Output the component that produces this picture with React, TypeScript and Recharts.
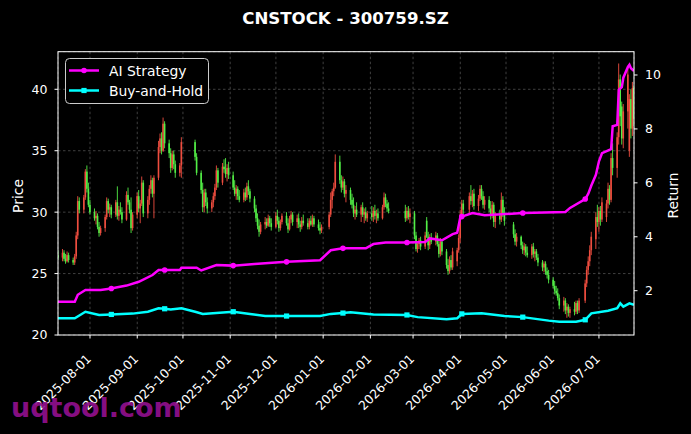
import React from "react";
import { ComposedChart, Bar, Line, XAxis, YAxis, CartesianGrid } from "recharts";

// ---- data ----
// [date, open, high, low, close]
const candles: [string, number, number, number, number][] = [
  ["2025-07-11", 26.5, 26.9, 26.1, 26.3],
  ["2025-07-14", 26.3, 27.0, 26.0, 26.7],
  ["2025-07-15", 26.7, 26.9, 26.0, 26.2],
  ["2025-07-16", 26.2, 26.6, 25.8, 26.0],
  ["2025-07-17", 26.0, 26.8, 25.9, 26.5],
  ["2025-07-18", 26.5, 26.7, 25.9, 26.1],
  ["2025-07-21", 26.1, 26.3, 25.7, 25.9],
  ["2025-07-22", 25.9, 26.6, 25.7, 26.4],
  ["2025-07-23", 26.4, 28.4, 26.2, 28.1],
  ["2025-07-24", 28.1, 31.3, 27.8, 30.9],
  ["2025-07-25", 30.9, 31.2, 29.9, 30.2],
  ["2025-07-28", 30.2, 31.4, 29.9, 31.2],
  ["2025-07-29", 31.2, 33.5, 31.0, 33.3],
  ["2025-07-30", 33.3, 33.8, 31.6, 31.9],
  ["2025-07-31", 31.9, 32.4, 30.4, 30.6],
  ["2025-08-01", 30.6, 31.0, 29.8, 30.0],
  ["2025-08-04", 30.0, 30.3, 29.3, 29.5],
  ["2025-08-05", 29.5, 30.1, 29.0, 29.7],
  ["2025-08-06", 29.7, 29.9, 28.6, 28.8],
  ["2025-08-07", 28.8, 29.2, 28.0, 28.3],
  ["2025-08-08", 28.3, 28.9, 28.1, 28.7],
  ["2025-08-11", 28.7, 29.8, 28.4, 29.6],
  ["2025-08-12", 29.6, 31.2, 29.4, 30.9],
  ["2025-08-13", 30.9, 31.1, 29.9, 30.2],
  ["2025-08-14", 30.2, 30.7, 29.6, 30.4],
  ["2025-08-15", 30.4, 30.6, 29.5, 29.8],
  ["2025-08-18", 29.8, 31.0, 29.6, 30.8],
  ["2025-08-19", 30.8, 32.1, 29.4, 29.7],
  ["2025-08-20", 29.7, 30.5, 29.3, 30.2],
  ["2025-08-21", 30.2, 30.8, 29.8, 30.0],
  ["2025-08-22", 30.0, 30.4, 29.1, 29.4],
  ["2025-08-25", 29.4, 31.7, 29.3, 31.4],
  ["2025-08-26", 31.4, 32.0, 30.6, 30.8],
  ["2025-08-27", 30.8, 31.0, 29.9, 30.2],
  ["2025-08-28", 30.2, 31.2, 28.3, 28.7],
  ["2025-08-29", 28.7, 30.0, 28.5, 29.8],
  ["2025-09-01", 29.8, 31.6, 29.5, 31.3],
  ["2025-09-02", 31.3, 31.8, 30.0, 30.3],
  ["2025-09-03", 30.3, 31.0, 29.1, 30.7],
  ["2025-09-04", 30.7, 32.9, 30.5, 32.4],
  ["2025-09-05", 32.4, 32.6, 29.6, 29.9],
  ["2025-09-08", 29.9, 31.3, 29.5, 31.0],
  ["2025-09-09", 31.0, 32.2, 30.6, 31.9],
  ["2025-09-10", 31.9, 33.0, 31.5, 32.6],
  ["2025-09-11", 32.6, 32.8, 31.2, 31.5],
  ["2025-09-12", 31.5, 33.0, 29.5, 32.8],
  ["2025-09-15", 32.8, 35.8, 32.6, 35.3],
  ["2025-09-16", 35.3, 36.4, 34.8, 36.0],
  ["2025-09-17", 36.0, 36.5, 34.7, 35.0],
  ["2025-09-18", 35.0, 37.7, 34.9, 37.2],
  ["2025-09-19", 37.2, 37.4, 35.2, 35.6],
  ["2025-09-22", 35.6, 35.9, 34.4, 34.8],
  ["2025-09-23", 34.8, 35.2, 33.2, 33.6],
  ["2025-09-24", 33.6, 35.0, 33.4, 34.7],
  ["2025-09-25", 34.7, 35.0, 33.5, 33.9],
  ["2025-09-26", 33.9, 34.2, 32.8, 33.2],
  ["2025-09-29", 33.2, 34.0, 32.9, 33.8],
  ["2025-09-30", 33.8, 36.1, 32.8, 35.7],
  ["2025-10-09", 35.7, 35.9, 34.2, 34.5],
  ["2025-10-10", 34.5, 34.8, 33.0, 33.2],
  ["2025-10-13", 33.2, 33.4, 31.5, 31.8],
  ["2025-10-14", 31.8, 32.4, 30.0, 30.4],
  ["2025-10-15", 30.4, 31.9, 30.0, 31.6],
  ["2025-10-16", 31.6, 31.9, 30.5, 30.8],
  ["2025-10-17", 30.8, 31.2, 29.9, 30.3],
  ["2025-10-20", 30.3, 31.0, 30.0, 30.8],
  ["2025-10-21", 30.8, 31.6, 30.4, 31.3],
  ["2025-10-22", 31.3, 32.3, 31.0, 32.0],
  ["2025-10-23", 32.0, 33.8, 31.8, 33.4],
  ["2025-10-24", 33.4, 33.6, 32.0, 32.4],
  ["2025-10-27", 32.4, 34.0, 32.2, 33.7],
  ["2025-10-28", 33.7, 34.3, 33.2, 33.5],
  ["2025-10-29", 33.5, 34.4, 32.8, 33.1],
  ["2025-10-30", 33.1, 33.9, 32.5, 33.6],
  ["2025-10-31", 33.6, 34.1, 32.7, 33.0],
  ["2025-11-03", 33.0, 33.3, 31.8, 32.0],
  ["2025-11-04", 32.0, 32.6, 31.3, 31.5],
  ["2025-11-05", 31.5, 32.2, 31.0, 31.9],
  ["2025-11-06", 31.9, 32.1, 31.0, 31.3],
  ["2025-11-07", 31.3, 31.8, 30.8, 31.0],
  ["2025-11-10", 31.0, 31.9, 30.8, 31.6],
  ["2025-11-11", 31.6, 32.0, 30.9, 31.2],
  ["2025-11-12", 31.2, 32.4, 31.0, 32.1],
  ["2025-11-13", 32.1, 32.6, 31.4, 31.7],
  ["2025-11-14", 31.7, 31.9, 30.8, 31.1],
  ["2025-11-17", 31.1, 31.3, 30.0, 30.3],
  ["2025-11-18", 30.3, 30.6, 29.2, 29.5],
  ["2025-11-19", 29.5, 29.9, 28.6, 28.9],
  ["2025-11-20", 28.9, 29.4, 28.0, 28.4],
  ["2025-11-21", 28.4, 29.2, 28.2, 29.0],
  ["2025-11-24", 29.0, 29.6, 28.6, 29.2],
  ["2025-11-25", 29.2, 29.5, 28.7, 28.9],
  ["2025-11-26", 28.9, 29.8, 28.8, 29.5],
  ["2025-11-27", 29.5, 29.7, 28.8, 29.1],
  ["2025-11-28", 29.1, 29.5, 28.5, 28.8],
  ["2025-12-01", 28.8, 30.0, 28.7, 29.7],
  ["2025-12-02", 29.7, 30.2, 29.0, 29.3],
  ["2025-12-03", 29.3, 29.6, 28.4, 28.7],
  ["2025-12-04", 28.7, 29.4, 28.5, 29.2],
  ["2025-12-05", 29.2, 29.9, 29.0, 29.7],
  ["2025-12-08", 29.7, 30.0, 28.9, 29.1],
  ["2025-12-09", 29.1, 29.5, 28.3, 28.6],
  ["2025-12-10", 28.6, 29.7, 28.5, 29.4],
  ["2025-12-11", 29.4, 30.1, 29.1, 29.8],
  ["2025-12-12", 29.8, 30.0, 28.9, 29.2],
  ["2025-12-15", 29.2, 29.8, 28.7, 29.5],
  ["2025-12-16", 29.5, 29.9, 28.7, 29.0],
  ["2025-12-17", 29.0, 29.3, 28.4, 28.8],
  ["2025-12-18", 28.8, 29.6, 28.6, 29.3],
  ["2025-12-19", 29.3, 29.8, 28.9, 29.1],
  ["2025-12-22", 29.1, 29.5, 28.6, 28.8],
  ["2025-12-23", 28.8, 29.5, 28.6, 29.3],
  ["2025-12-24", 29.3, 29.7, 28.9, 29.0],
  ["2025-12-25", 29.0, 29.8, 28.8, 29.5],
  ["2025-12-26", 29.5, 29.7, 28.8, 29.0],
  ["2025-12-29", 29.0, 29.4, 28.5, 28.7],
  ["2025-12-30", 28.7, 29.2, 28.2, 28.5],
  ["2025-12-31", 28.5, 29.0, 28.3, 28.8],
  ["2026-01-05", 28.8, 30.0, 28.6, 29.8],
  ["2026-01-06", 29.8, 31.6, 29.6, 31.0],
  ["2026-01-07", 31.0, 31.9, 30.3, 31.7],
  ["2026-01-08", 31.7, 32.4, 31.3, 32.0],
  ["2026-01-09", 32.0, 34.7, 31.9, 34.1],
  ["2026-01-12", 34.1, 34.6, 32.3, 32.6],
  ["2026-01-13", 32.6, 33.0, 31.6, 32.0],
  ["2026-01-14", 32.0, 32.9, 31.8, 32.5],
  ["2026-01-15", 32.5, 32.7, 31.2, 31.5],
  ["2026-01-16", 31.5, 32.2, 30.8, 31.8],
  ["2026-01-19", 31.8, 32.0, 30.6, 31.0],
  ["2026-01-20", 31.0, 31.5, 30.3, 30.6],
  ["2026-01-21", 30.6, 31.2, 29.6, 29.9],
  ["2026-01-22", 29.9, 30.5, 29.4, 30.2],
  ["2026-01-23", 30.2, 30.8, 29.6, 29.8],
  ["2026-01-26", 29.8, 30.6, 29.2, 30.4],
  ["2026-01-27", 30.4, 30.8, 29.6, 29.8],
  ["2026-01-28", 29.8, 30.3, 29.1, 30.0],
  ["2026-01-29", 30.0, 30.4, 29.3, 29.5],
  ["2026-01-30", 29.5, 30.1, 29.2, 29.9],
  ["2026-02-02", 29.9, 30.5, 29.3, 29.6],
  ["2026-02-03", 29.6, 30.4, 29.2, 30.1],
  ["2026-02-04", 30.1, 30.6, 29.4, 29.7],
  ["2026-02-05", 29.7, 30.2, 29.1, 29.9],
  ["2026-02-06", 29.9, 30.3, 29.3, 29.5],
  ["2026-02-09", 29.5, 30.6, 29.4, 30.4],
  ["2026-02-10", 30.4, 31.6, 30.2, 31.2],
  ["2026-02-11", 31.2, 31.5, 30.4, 30.7],
  ["2026-02-12", 30.7, 31.0, 30.0, 30.3],
  ["2026-02-13", 30.3, 30.8, 29.9, 30.1],
  ["2026-02-24", 30.1, 30.6, 29.2, 29.5],
  ["2026-02-25", 29.5, 30.4, 29.3, 30.1],
  ["2026-02-26", 30.1, 30.5, 29.4, 29.6],
  ["2026-02-27", 29.6, 30.3, 29.1, 29.9],
  ["2026-03-02", 29.9, 30.1, 27.8, 28.1],
  ["2026-03-03", 28.1, 28.4, 26.8, 27.0],
  ["2026-03-04", 27.0, 27.6, 26.7, 27.4],
  ["2026-03-05", 27.4, 27.9, 27.0, 27.7],
  ["2026-03-06", 27.7, 28.0, 26.9, 27.2],
  ["2026-03-09", 27.2, 28.4, 27.0, 28.1],
  ["2026-03-10", 29.3, 29.6, 27.9, 28.0],
  ["2026-03-11", 28.0, 28.4, 26.9, 27.3],
  ["2026-03-12", 27.3, 28.2, 27.0, 27.9],
  ["2026-03-13", 27.9, 28.3, 27.4, 27.6],
  ["2026-03-16", 27.6, 28.4, 27.3, 28.1],
  ["2026-03-17", 28.1, 28.3, 27.2, 27.4],
  ["2026-03-18", 27.4, 27.8, 26.3, 26.6],
  ["2026-03-19", 26.6, 27.9, 26.4, 27.6],
  ["2026-03-20", 27.6, 27.8, 26.5, 26.8],
  ["2026-03-23", 26.8, 27.0, 25.4, 25.7],
  ["2026-03-24", 25.7, 26.2, 24.9, 25.2],
  ["2026-03-25", 25.2, 26.4, 25.0, 26.1],
  ["2026-03-26", 26.1, 26.5, 25.3, 25.5],
  ["2026-03-27", 25.5, 27.1, 25.3, 26.8],
  ["2026-03-30", 26.0, 27.1, 25.6, 26.9],
  ["2026-03-31", 26.9, 28.2, 26.7, 27.9],
  ["2026-04-01", 27.9, 30.2, 27.5, 29.8],
  ["2026-04-02", 29.8, 31.0, 29.4, 30.7],
  ["2026-04-03", 30.7, 31.0, 29.8, 30.2],
  ["2026-04-07", 30.2, 31.6, 29.9, 31.3],
  ["2026-04-08", 31.3, 32.2, 30.6, 30.9],
  ["2026-04-09", 30.9, 31.8, 30.4, 31.5],
  ["2026-04-10", 31.5, 31.9, 30.2, 30.5],
  ["2026-04-13", 30.5, 31.4, 30.1, 31.1],
  ["2026-04-14", 31.1, 32.2, 30.9, 31.9],
  ["2026-04-15", 31.9, 32.2, 31.0, 31.3],
  ["2026-04-16", 31.3, 31.7, 30.3, 30.6],
  ["2026-04-17", 30.6, 31.3, 30.2, 31.0],
  ["2026-04-20", 31.0, 31.3, 30.0, 30.3],
  ["2026-04-21", 30.3, 30.9, 29.4, 29.7],
  ["2026-04-22", 29.7, 30.9, 29.5, 30.6],
  ["2026-04-23", 30.6, 30.8, 28.8, 29.2],
  ["2026-04-24", 29.2, 30.0, 28.7, 29.7],
  ["2026-04-27", 29.7, 30.2, 29.0, 29.4],
  ["2026-04-28", 29.4, 31.6, 29.2, 31.0],
  ["2026-04-29", 31.0, 31.3, 29.6, 29.9],
  ["2026-04-30", 29.9, 30.4, 28.9, 29.3],
  ["2026-05-06", 29.0, 29.2, 27.9, 28.2],
  ["2026-05-07", 28.2, 28.6, 27.3, 27.6],
  ["2026-05-08", 27.6, 28.3, 27.2, 28.0],
  ["2026-05-11", 28.0, 28.1, 27.0, 27.3],
  ["2026-05-12", 27.3, 27.6, 26.6, 26.9],
  ["2026-05-13", 26.9, 27.5, 26.5, 27.2],
  ["2026-05-14", 27.2, 27.4, 26.4, 26.7],
  ["2026-05-15", 26.7, 27.2, 26.3, 26.5],
  ["2026-05-18", 26.5, 27.4, 26.2, 27.2],
  ["2026-05-19", 27.2, 27.5, 26.3, 26.6],
  ["2026-05-20", 26.6, 27.0, 26.0, 26.8],
  ["2026-05-21", 26.8, 27.0, 26.1, 26.3],
  ["2026-05-22", 26.3, 26.6, 25.6, 25.9],
  ["2026-05-25", 25.9, 26.1, 25.2, 25.5],
  ["2026-05-26", 25.5, 26.0, 25.1, 25.8],
  ["2026-05-27", 25.8, 26.0, 24.9, 25.2],
  ["2026-05-28", 25.2, 25.5, 24.6, 24.9],
  ["2026-05-29", 24.9, 25.3, 24.2, 24.5],
  ["2026-06-01", 24.5, 24.7, 23.8, 24.0],
  ["2026-06-02", 24.0, 24.4, 23.3, 23.6],
  ["2026-06-03", 23.6, 24.0, 23.2, 23.4],
  ["2026-06-04", 23.4, 23.8, 22.8, 23.0],
  ["2026-06-05", 23.0, 23.3, 22.1, 22.4],
  ["2026-06-08", 22.4, 23.1, 21.9, 22.8],
  ["2026-06-09", 22.8, 23.0, 21.7, 22.0],
  ["2026-06-10", 22.0, 22.6, 21.4, 22.3],
  ["2026-06-11", 22.3, 22.5, 21.5, 21.8],
  ["2026-06-12", 21.8, 22.3, 21.4, 22.1],
  ["2026-06-15", 22.1, 22.7, 21.6, 21.9],
  ["2026-06-16", 21.9, 22.8, 21.7, 22.6],
  ["2026-06-17", 22.6, 22.8, 21.7, 22.0],
  ["2026-06-18", 22.0, 23.0, 21.8, 22.8],
  ["2026-06-22", 22.8, 24.5, 22.6, 24.2],
  ["2026-06-23", 24.2, 25.6, 23.9, 25.3],
  ["2026-06-24", 25.3, 26.4, 24.9, 26.0],
  ["2026-06-25", 26.0, 27.3, 25.6, 26.9],
  ["2026-06-26", 26.9, 28.4, 26.5, 28.0],
  ["2026-06-29", 27.8, 30.0, 27.0, 29.6],
  ["2026-06-30", 29.6, 30.6, 28.8, 29.2],
  ["2026-07-01", 29.2, 30.4, 28.4, 30.1],
  ["2026-07-02", 30.1, 30.5, 28.9, 29.4],
  ["2026-07-03", 29.4, 31.2, 29.2, 30.8],
  ["2026-07-06", 29.6, 31.0, 29.2, 30.7],
  ["2026-07-07", 30.7, 32.4, 30.3, 31.9],
  ["2026-07-08", 31.9, 32.2, 30.6, 31.0],
  ["2026-07-09", 31.0, 34.8, 30.8, 34.4],
  ["2026-07-10", 34.4, 35.6, 33.0, 33.6],
  ["2026-07-13", 33.6, 36.5, 32.8, 36.1],
  ["2026-07-14", 36.1, 42.1, 35.5, 40.8],
  ["2026-07-15", 40.8, 41.2, 37.0, 37.8],
  ["2026-07-16", 38.6, 39.0, 35.5, 36.0],
  ["2026-07-17", 36.0, 38.8, 35.2, 38.2],
  ["2026-07-20", 38.2, 41.8, 36.8, 41.2],
  ["2026-07-21", 35.0, 39.6, 34.5, 39.2],
  ["2026-07-22", 39.2, 40.0, 36.0, 36.8],
  ["2026-07-23", 36.8, 40.6, 36.2, 40.1],
  ["2026-07-24", 40.1, 40.3, 37.0, 37.6],
];

const aiStrategy: [string, number][] = [
  ["2025-07-11", 1.59], ["2025-07-22", 1.59], ["2025-07-24", 1.85], ["2025-07-29", 2.03],
  ["2025-08-08", 2.03], ["2025-08-15", 2.08], ["2025-08-19", 2.13], ["2025-08-25", 2.19],
  ["2025-09-02", 2.33], ["2025-09-11", 2.58], ["2025-09-15", 2.77], ["2025-09-19", 2.77],
  ["2025-09-29", 2.77], ["2025-09-30", 2.85], ["2025-10-10", 2.85], ["2025-10-13", 2.75],
  ["2025-10-23", 2.95], ["2025-11-03", 2.93], ["2025-11-17", 2.99], ["2025-12-08", 3.07],
  ["2025-12-30", 3.13], ["2026-01-06", 3.5], ["2026-01-14", 3.57], ["2026-01-29", 3.57],
  ["2026-02-03", 3.73], ["2026-02-11", 3.79], ["2026-02-25", 3.79], ["2026-03-09", 3.81],
  ["2026-03-12", 3.94], ["2026-03-20", 3.87], ["2026-03-27", 4.1], ["2026-03-30", 4.15],
  ["2026-04-01", 4.72], ["2026-04-02", 4.75], ["2026-04-09", 4.88], ["2026-04-17", 4.8],
  ["2026-05-12", 4.88], ["2026-06-09", 4.92], ["2026-06-12", 5.07], ["2026-06-22", 5.4],
  ["2026-06-24", 5.6], ["2026-06-26", 5.9], ["2026-06-29", 6.3], ["2026-07-01", 6.8],
  ["2026-07-03", 7.1], ["2026-07-09", 7.25], ["2026-07-10", 8.1], ["2026-07-13", 8.15],
  ["2026-07-14", 9.45], ["2026-07-16", 9.55], ["2026-07-17", 9.9], ["2026-07-20", 10.3],
  ["2026-07-21", 10.38], ["2026-07-22", 10.25], ["2026-07-24", 10.15],
];

const buyAndHold: [string, number][] = [
  ["2025-07-11", 0.98], ["2025-07-22", 0.98], ["2025-07-29", 1.22], ["2025-08-07", 1.1],
  ["2025-08-15", 1.12], ["2025-08-29", 1.15], ["2025-09-08", 1.22], ["2025-09-15", 1.35],
  ["2025-09-19", 1.33], ["2025-09-23", 1.3], ["2025-09-30", 1.35], ["2025-10-09", 1.22],
  ["2025-10-14", 1.14], ["2025-11-03", 1.22], ["2025-11-14", 1.14], ["2025-11-24", 1.06],
  ["2025-12-08", 1.06], ["2025-12-30", 1.06], ["2026-01-06", 1.14], ["2026-01-14", 1.17],
  ["2026-01-19", 1.2], ["2026-02-03", 1.12], ["2026-02-25", 1.1], ["2026-03-04", 1.02],
  ["2026-03-23", 0.94], ["2026-03-30", 0.98], ["2026-04-02", 1.14], ["2026-04-15", 1.16],
  ["2026-04-30", 1.06], ["2026-05-12", 1.02], ["2026-05-29", 0.89], ["2026-06-05", 0.85],
  ["2026-06-16", 0.85], ["2026-06-22", 0.92], ["2026-06-26", 1.16], ["2026-07-07", 1.26],
  ["2026-07-13", 1.35], ["2026-07-15", 1.53], ["2026-07-17", 1.41], ["2026-07-21", 1.53],
  ["2026-07-24", 1.48],
];

const markerDates: string[] = [
  "2025-08-15", "2025-09-19", "2025-11-03", "2025-12-08", "2026-01-14",
  "2026-02-25", "2026-04-02", "2026-05-12", "2026-06-22",
];

const monthTicks: string[] = [
  "2025-08-01", "2025-09-01", "2025-10-01", "2025-11-01", "2025-12-01", "2026-01-01",
  "2026-02-01", "2026-03-01", "2026-04-01", "2026-05-01", "2026-06-01", "2026-07-01",
];
const priceTicks = [20, 25, 30, 35, 40];
const returnTicks = [2, 4, 6, 8, 10];
const xStart = "2025-07-11";
const xEnd = "2026-07-24";

// ---- build table ----
const ts = (s: string) => Date.UTC(+s.slice(0, 4), +s.slice(5, 7) - 1, +s.slice(8, 10));
const fmt = (t: number) => new Date(t).toISOString().slice(0, 10);
const rowMap = new Map<number, any>();
const row = (s: string) => {
  const t = ts(s);
  if (!rowMap.has(t)) rowMap.set(t, { t });
  return rowMap.get(t);
};
candles.forEach(([d, o, h, l, c]) => Object.assign(row(d), { open: o, high: h, low: l, close: c, range: [l, h] }));
aiStrategy.forEach(([d, v]) => (row(d).ai = v));
buyAndHold.forEach(([d, v]) => (row(d).bh = v));
const data = [...rowMap.values()].sort((a, b) => a.t - b.t);
const markSet = new Set(markerDates.map(ts));

const RED = "#ee4d3f";
const GREEN = "#52ee46";
const MAG = "#ff00ff";
const CYAN = "#00ffff";
const FONT = "DejaVu Sans";

const Candle = (p: any) => {
  const { x, width, payload } = p;
  let { y, height } = p;
  if (!payload || payload.open == null || x == null) return <g />;
  if (height < 0) { y = y + height; height = -height; }
  const { open, close, high, low } = payload;
  const span = high - low || 1;
  const py = (v: number) => y + ((high - v) / span) * height;
  const cx = x + width / 2;
  const color = close >= open ? RED : GREEN;
  const top = py(Math.max(open, close));
  const bot = py(Math.min(open, close));
  return (
    <g>
      <line x1={cx} x2={cx} y1={y} y2={y + height} stroke={color} strokeWidth={0.9} />
      <rect x={cx - 0.8} y={top} width={1.6} height={Math.max(bot - top, 0.7)} fill={color} />
    </g>
  );
};

const AiDot = (p: any) => {
  const { cx, cy, payload, index } = p;
  if (cx == null || !payload || !markSet.has(payload.t)) return <g key={`a${index}`} />;
  return <circle key={`a${index}`} cx={cx} cy={cy} r={2.8} fill={MAG} />;
};
const BhDot = (p: any) => {
  const { cx, cy, payload, index } = p;
  if (cx == null || !payload || !markSet.has(payload.t)) return <g key={`b${index}`} />;
  return <rect key={`b${index}`} x={cx - 2.6} y={cy - 2.6} width={5.2} height={5.2} fill={CYAN} />;
};

const XTick = (p: any) => {
  const { x, y, payload } = p;
  const ax = x + 2;
  const ay = y + 19;
  return (
    <text x={ax} y={ay} transform={`rotate(-45 ${ax} ${ay})`} textAnchor="end" fill="#fff" fontSize={12.5} fontFamily={FONT}>
      {fmt(payload.value)}
    </text>
  );
};

export default function App() {
  const tickStyle = { fill: "#fff", fontSize: 12.5, fontFamily: FONT };
  return (
    <div style={{ position: "absolute", left: 0, top: 0, width: 691, height: 434, background: "#000", overflow: "hidden" }}>
      <ComposedChart width={691} height={434} data={data} margin={{ top: 51.7, right: 0, bottom: 0, left: 0 }}>
        <CartesianGrid stroke="#5a5a5a" strokeDasharray="2.5 2.5" strokeWidth={0.7} />
        <XAxis
          dataKey="t"
          type="number"
          domain={[ts(xStart), ts(xEnd)]}
          allowDataOverflow
          ticks={monthTicks.map(ts)}
          height={99}
          axisLine={false}
          tickLine={{ stroke: "#fff" }}
          tickSize={3.5}
          tick={<XTick />}
          interval={0}
        />
        <YAxis
          yAxisId={0}
          orientation="left"
          width={58}
          domain={[20, 43.06]}
          allowDataOverflow
          ticks={priceTicks}
          axisLine={false}
          tickLine={{ stroke: "#fff" }}
          tickSize={3.5}
          tickMargin={7}
          tick={tickStyle}
          interval={0}
        />
        <YAxis
          yAxisId="r"
          orientation="right"
          width={57}
          domain={[0.357, 10.864]}
          allowDataOverflow
          ticks={returnTicks}
          axisLine={false}
          tickLine={{ stroke: "#fff" }}
          tickSize={3.5}
          tickMargin={7.5}
          tick={tickStyle}
          interval={0}
        />
        <Bar yAxisId={0} dataKey="range" barSize={2} shape={<Candle />} isAnimationActive={false} />
        <Line yAxisId="r" type="linear" dataKey="ai" stroke={MAG} strokeWidth={2.5} connectNulls dot={AiDot} activeDot={false} isAnimationActive={false} />
        <Line yAxisId="r" type="linear" dataKey="bh" stroke={CYAN} strokeWidth={2.5} connectNulls dot={BhDot} activeDot={false} isAnimationActive={false} />
      </ComposedChart>
      <svg width={691} height={434} style={{ position: "absolute", left: 0, top: 0, pointerEvents: "none" }}>
        <rect x={58} y={51.7} width={576} height={283.3} fill="none" stroke="#fff" strokeWidth={1} />
        <text x={345.5} y={24} textAnchor="middle" fill="#fff" fontSize={16.6} fontWeight="bold" fontFamily={FONT}>
          CNSTOCK - 300759.SZ
        </text>
        <text x={23} y={196} transform="rotate(-90 23 196)" textAnchor="middle" fill="#fff" fontSize={13.9} fontFamily={FONT}>
          Price
        </text>
        <text x={678} y={195.5} transform="rotate(-90 678 195.5)" textAnchor="middle" fill="#fff" fontSize={13.9} fontFamily={FONT}>
          Return
        </text>
        <g>
          <rect x={65.5} y={58.5} width={143} height={45} rx={4} fill="#000" stroke="#cccccc" strokeWidth={1} />
          <line x1={69} x2={99} y1={70.5} y2={70.5} stroke={MAG} strokeWidth={2.5} />
          <circle cx={84} cy={70.5} r={2.8} fill={MAG} />
          <text x={109} y={75.5} fill="#fff" fontSize={13.9} fontFamily={FONT}>AI Strategy</text>
          <line x1={69} x2={99} y1={90.5} y2={90.5} stroke={CYAN} strokeWidth={2.5} />
          <rect x={81.4} y={87.9} width={5.2} height={5.2} fill={CYAN} />
          <text x={109} y={95.5} fill="#fff" fontSize={13.9} fontFamily={FONT}>Buy-and-Hold</text>
        </g>
        <text x={11} y={417} fill="#93108f" fillOpacity={0.92} fontSize={27} fontWeight="bold" fontFamily={FONT}>
          uqtool.com
        </text>
      </svg>
    </div>
  );
}
